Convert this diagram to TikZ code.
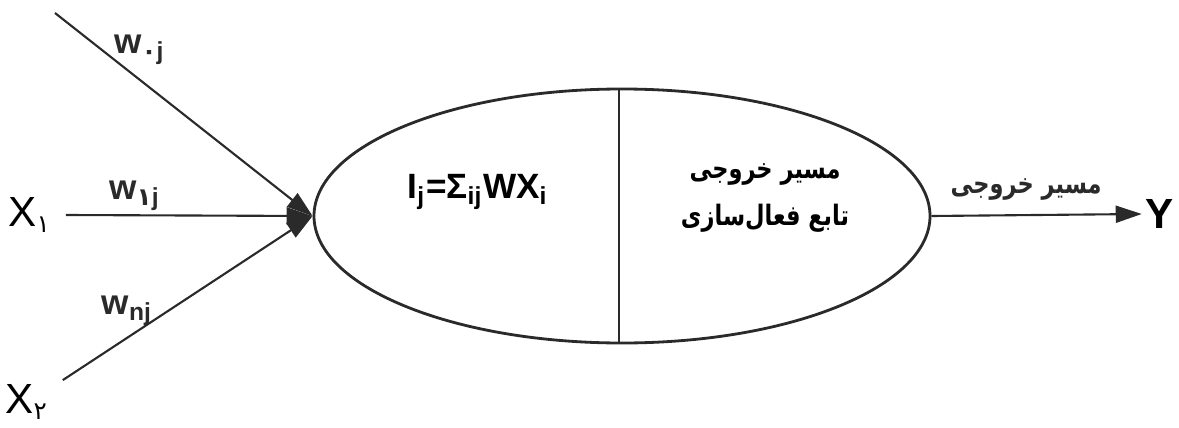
\documentclass[tikz,border=0pt]{standalone}
\usepackage{fontspec}
\setmainfont{Liberation Sans}
\newfontfamily\arabicfont[Script=Arabic]{DejaVu Sans}
\TeXXeTstate=1
\usepackage{tikz}
\usetikzlibrary{arrows.meta,shapes.geometric}
\definecolor{inkgrey}{HTML}{2A2A2A}

\begin{document}
\begin{tikzpicture}[every node/.style={font=\normalsize, inner sep=1pt},
  arr/.style={-{Triangle[length=2.6mm, width=1.7mm]}, inkgrey, semithick},
  wlab/.style={font=\bfseries\normalsize},
  fa/.style={font=\arabicfont\bfseries\footnotesize, align=center, transform shape, xscale=0.8}]
\useasboundingbox (0,0) rectangle (11.79,4.27);
\node[ellipse, draw=inkgrey, thick, minimum width=6.16cm, minimum height=2.54cm] (neuron) at (6.22,2.11) {};
\draw[inkgrey, thick] ([xshift=-0.3mm]neuron.north) -- ([xshift=-0.3mm]neuron.south);
\coordinate (in0) at (0.55,4.14);
\node (x1) at (0.30,2.12) {\large X\textsubscript{\arabicfont\scriptsize ۱}};
\node (x2) at (0.27,0.25) {\large X\textsubscript{\arabicfont\scriptsize ۲}};
\node (sum) at (4.78,2.35) {\normalsize\bfseries I\textsubscript{j}=Σ\textsubscript{ij}WX\textsubscript{i}};
\node[fa] (act) at (7.65,2.29) {\beginR مسیر خروجی\endR\\[4pt]\beginR تابع فعال‌سازی\endR};
\node (y) at (11.60,2.13) {\large\bfseries Y};
\draw[arr] (in0) -- (neuron.west) node[wlab, pos=0.24, above right=-2pt] {w\textsubscript{{\arabicfont ۰}j}};
\draw[arr] ([xshift=1mm]x1.east) -- (neuron.west) node[wlab, pos=0.28, above] {w\textsubscript{{\arabicfont ۱}j}};
\draw[arr] ([xshift=1mm]x2.north east) -- (neuron.west) node[wlab, pos=0.35, above left=-2pt] {w\textsubscript{nj}};
\draw[arr] (neuron.east) -- (y.west) node[fa, pos=0.45, above=3pt] {\beginR مسیر خروجی\endR};
\end{tikzpicture}
\end{document}
